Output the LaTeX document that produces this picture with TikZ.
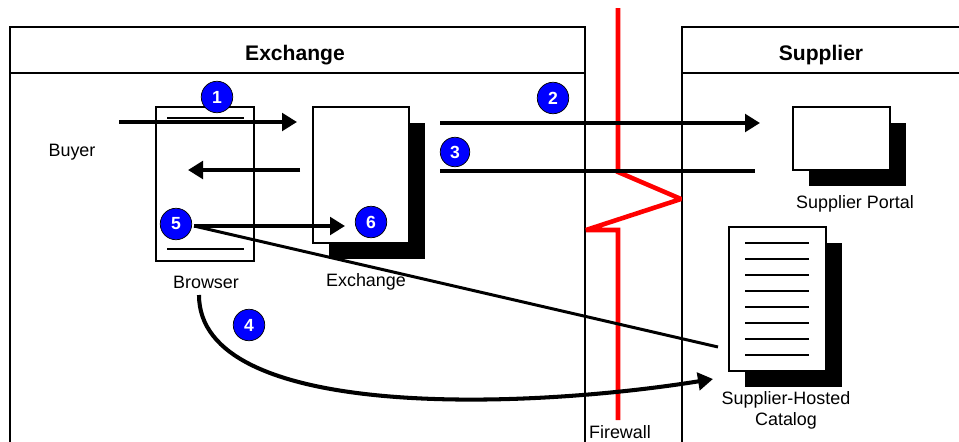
\documentclass[tikz,border=0pt]{standalone}
\usepackage{fontspec}
\setmainfont{Liberation Sans}
\usetikzlibrary{arrows.meta,shadows,positioning}

\begin{document}
\begin{tikzpicture}[x=0.2mm,y=-0.2mm,
  box/.style={draw,fill=white,line width=0.6pt,inner sep=0pt},
  shadow_box/.style={box,drop shadow={shadow xshift=3.1mm,shadow yshift=-3.1mm,fill=black,opacity=1}},
  step_num/.style={circle,fill=blue,draw=black,line width=0.4pt,minimum size=6.3mm,inner sep=0pt,text=white,font=\fontsize{10}{11}\selectfont\bfseries},
  lbl/.style={font=\fontsize{10.2}{12}\selectfont},
  head/.style={font=\fontsize{12}{14}\selectfont\bfseries},
  flow/.style={line width=2.3pt,-{Triangle[length=3mm,width=3.5mm]}},
  pane/.style={line width=0.6pt}]
				\useasboundingbox (0,0) rectangle (959,442);
				% panes
				\draw[pane] (10,442) -- (10,27) -- (585,27) -- (585,442);
				\draw[pane] (10,73) -- (585,73);
				\draw[pane] (959,27) -- (682,27) -- (682,442);
				\draw[pane] (682,73) -- (959,73);
				\node[head] (h_exch) at (295,55) {Exchange};
				\node[head] (h_supp) at (821,55) {Supplier};
				% firewall
				\draw[red,line width=2.6pt,miter limit=1.5] (618,8) -- (618,172) -- (681,199) -- (586,230) -- (618,230) -- (618,420);
				\node[lbl] (fw) at (620,432) {Firewall};
				% boxes
				\node[box,minimum width=19.6mm,minimum height=30.8mm] (browser) at (205,184) {};
				\draw[line width=0.6pt] (167,118) -- (244,118) (167,249) -- (244,249);
				\node[shadow_box,minimum width=19.2mm,minimum height=27.2mm] (exch) at (361,175) {};
				\node[shadow_box,minimum width=19.4mm,minimum height=12.6mm] (portal) at (841.5,138.5) {};
				\node[shadow_box,minimum width=19.4mm,minimum height=28.8mm] (catalog) at (777.5,299) {};
				\foreach \i in {0,...,7}
					\draw[line width=0.6pt] (745,243+16*\i) -- (809,243+16*\i);
				% labels
				\node[lbl] (buyer) at (72,152) {Buyer};
				\node[lbl] (l_browser) at (206,282) {Browser};
				\node[lbl] (l_exch) at (366,282) {Exchange};
				\node[lbl] (l_portal) at (855,204) {Supplier Portal};
				\node[lbl,align=center] (l_cat) at (786,410) {Supplier-Hosted\\Catalog};
				% steps
				\node[step_num] (n1) at (217,97) {1};
				\node[step_num] (n2) at (553,98) {2};
				\node[step_num,minimum size=5.9mm] (n3) at (455,152) {3};
				\node[step_num] (n4) at (249,325) {4};
				\node[step_num] (n5) at (176,224) {5};
				\node[step_num] (n6) at (371,222) {6};
				% connectors
				\coordinate (a1s) at (119,122);
				\coordinate (a1e) at (297,122);
				\coordinate (bks) at (300,170);
				\coordinate (bke) at (188,170);
				\coordinate (a2s) at (440,123);
				\coordinate (a2e) at (760,123);
				\coordinate (a3s) at (440,171);
				\coordinate (a3e) at (755,171);
				\coordinate (a4s) at (199,295);
				\coordinate (a4e) at (713,379);
				\coordinate (a5s) at (194,226);
				\coordinate (a5e) at (718,347);
				\coordinate (a6e) at (345,226);
				\draw[flow] (a1s) -- (a1e);
				\draw[flow] (bks) -- (bke);
				\draw[flow] (a2s) -- (a2e);
				\draw[line width=2.3pt] (a3s) -- (a3e);
				\draw[flow] (a5s) -- (a6e);
				\draw[line width=1.7pt] (a5s) -- (a5e);
				\draw[flow] (a4s) .. controls (199,420) and (520,410) .. (a4e);
			\end{tikzpicture}
\end{document}
